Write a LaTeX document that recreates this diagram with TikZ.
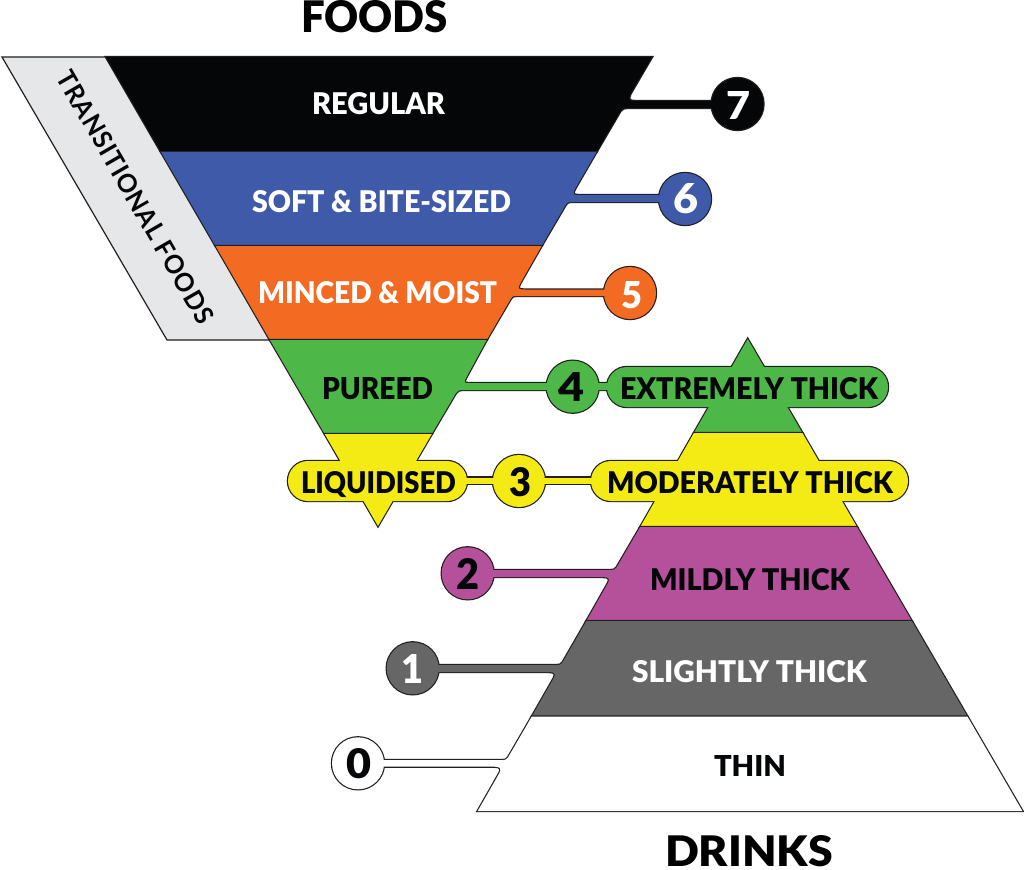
\documentclass[tikz,border=0pt]{standalone}
\usepackage{fontspec}
\usepackage{graphicx}
\setmainfont{Lato}[BoldFont=Lato Black]
\newfontfamily\latospaced{Lato}[BoldFont=Lato Bold,LetterSpace=3]
\definecolor{edge}{HTML}{231F20}
\definecolor{cblack}{HTML}{050608}
\definecolor{cblue}{HTML}{3F5AA8}
\definecolor{corange}{HTML}{F36A22}
\definecolor{cgreen}{HTML}{4DB848}
\definecolor{cyellow}{HTML}{F5EB14}
\definecolor{cpurple}{HTML}{B5519B}
\definecolor{cgrey}{HTML}{666666}
\definecolor{clight}{HTML}{E6E7E8}
\newcommand\fitlab[3]{\resizebox{#1pt}{#2pt}{\bfseries #3}}
\newcommand\grouppass[2]{#1{edgepass}#1{fill=#2}}
\newcommand\rad{26pt}
\tikzset{
  edgepass/.style={draw=edge,line width=2.4pt},
  lab/.style={anchor=base west,inner sep=0pt,outer sep=0pt},
  dig/.style={anchor=base,inner sep=0pt,outer sep=0pt},
}
% ---- pieces of each colour group ----
\newcommand\pblack[1]{%
  \path[#1] (106,57)--(652,57)--(630.4,94) .. controls (627.5,101) and (630,101) .. (636,101)
    --(720,101)--(720,108)--(627,108) .. controls (624,108) .. (620.5,111)--(596.5,152)--(161,152)--cycle;
  \path[#1] (737.5,104) circle (\rad);}
\newcommand\pblue[1]{%
  \path[#1] (161,152)--(596.5,152)--(575,189) .. controls (572,195) and (574,195) .. (580,195)
    --(670,195)--(670,202)--(571,202) .. controls (568,202) .. (565.6,205)--(541.6,246)--(215.6,246)--cycle;
  \path[#1] (685,199) circle (\rad);}
\newcommand\porange[1]{%
  \path[#1] (215.6,246)--(541.6,246)--(520.5,283) .. controls (517,289.5) and (519,289.5) .. (525,289.5)
    --(615,289.5)--(615,296)--(516,296) .. controls (513,296) .. (510.7,299)--(486.7,340)--(270,340)--cycle;
  \path[#1] (630,293) circle (\rad);}
\newcommand\pgreen[1]{%
  \path[#1] (270,340)--(486.7,340)--(466,378) .. controls (463,383) and (465,383) .. (470,383)
    --(620,383)--(620,390)--(462,390) .. controls (459.5,390) .. (456,393)--(431.8,434)--(324.7,434)--cycle;
  \path[#1] (572.7,386.7) circle (\rad);
  \path[#1] (747.7,339)--(802.4,433)--(693.9,433)--cycle;
  \path[#1] [rounded corners=20pt] (607,367) rectangle (888,407);}
\newcommand\pyellow[1]{%
  \path[#1] (324.7,434)--(431.8,434)--(378,526)--cycle;
  \path[#1] [rounded corners=20pt] (288,461) rectangle (467,501);
  \path[#1] (455,477.5) rectangle (605,484);
  \path[#1] (519,481) circle (\rad);
  \path[#1] (693.9,433)--(802.4,433)--(857,527)--(640.2,527)--cycle;
  \path[#1] [rounded corners=20pt] (591,461) rectangle (908,501);}
\newcommand\ppurple[1]{%
  \path[#1] (640.2,527)--(857,527)--(911.8,621)--(586.4,621)--(608,583)
    .. controls (610,579) and (609,577) .. (603,577)--(480,577)--(480,570)--(611,570)
    .. controls (614,570) .. (616.5,567.5)--cycle;
  \path[#1] (467.7,573.3) circle (\rad);}
\newcommand\pgrey[1]{%
  \path[#1] (586.4,621)--(911.8,621)--(967.4,716.5)--(531.8,716.5)--(553.8,678)
    .. controls (555.8,674) and (555,672) .. (549,672)--(425,672)--(425,665)--(557,665)
    .. controls (560,665) .. (562.5,662.5)--cycle;
  \path[#1] (412.7,668.3) circle (\rad);}
\newcommand\pwhite[1]{%
  \path[#1] (531.8,716.5)--(967.4,716.5)--(1022.4,811)--(477.7,811)--(499.4,773)
    .. controls (501.4,769) and (500.6,766.7) .. (494.6,766.7)--(370,766.7)--(370,760)--(502.5,760)
    .. controls (505.5,760) .. (508,757.5)--cycle;
  \path[#1] (358,763.3) circle (\rad);}
\begin{document}
\begin{tikzpicture}[x=1pt,y=-1pt]
\useasboundingbox (0,0) rectangle (1024,869);
\fill[white] (0,0) rectangle (1024,869);
% transitional foods
\path[fill=clight,draw=edge,line width=1.2pt] (2,57)--(106,57)--(270,340)--(167,340)--cycle;
% foods
\grouppass\pblack{cblack}
\grouppass\pblue{cblue}
\grouppass\porange{corange}
% drinks first so upper colours overlap downward
\grouppass\pgreen{cgreen}
\grouppass\pyellow{cyellow}
\grouppass\ppurple{cpurple}
\grouppass\pgrey{cgrey}
\grouppass\pwhite{white}
% headings
\node[lab] (foods) at (301,33) {\fitlab{147}{32}{FOODS}};
\node[lab] (drinks) at (665,866) {\fitlab{168}{31}{DRINKS}};
% labels
\node[lab,text=white] (regular) at (312,115) {\fitlab{133}{22}{REGULAR}};
\node[lab,text=white] (soft) at (252,212) {\fitlab{259}{22}{SOFT \& BITE-SIZED}};
\node[lab,text=white] (minced) at (258,303) {\fitlab{239}{22}{MINCED \& MOIST}};
\node[lab,text=cblack] (pureed) at (322,399) {\fitlab{111}{22}{PUREED}};
\node[lab,text=cblack] (liq) at (301,493) {\fitlab{155}{22}{LIQUIDISED}};
\node[lab,text=cblack] (ext) at (620,399) {\fitlab{258}{22}{EXTREMELY THICK}};
\node[lab,text=cblack] (mod) at (607,493) {\fitlab{286}{22}{MODERATELY THICK}};
\node[lab,text=cblack] (mild) at (650,590) {\fitlab{200}{22}{MILDLY THICK}};
\node[lab,text=white] (slight) at (632,682) {\fitlab{235}{22}{SLIGHTLY THICK}};
\node[lab,text=cblack] (thin) at (714,776) {\fitlab{72}{21}{THIN}};
\node[inner sep=0pt,rotate=-60,text=cblack] (trans) at (135.5,197) {\fitlab{287}{19}{\latospaced TRANSITIONAL FOODS}};
% digits
\node[dig,text=white] (n7) at (738,120) {\fitlab{24}{28}{7}};
\node[dig,text=white] (n6) at (685.5,213) {\fitlab{25}{30}{6}};
\node[dig,text=white] (n5) at (631.5,308) {\fitlab{21}{27}{5}};
\node[dig,text=cblack] (n4) at (571.5,401) {\fitlab{26}{29}{4}};
\node[dig,text=cblack] (n3) at (520,496) {\fitlab{22}{29}{3}};
\node[dig,text=cblack] (n2) at (467.5,589) {\fitlab{23}{31}{2}};
\node[dig,text=white] (n1) at (412.5,683) {\fitlab{22}{29}{1}};
\node[dig,text=cblack] (n0) at (358.5,778) {\fitlab{25}{30}{0}};
\end{tikzpicture}
\end{document}
